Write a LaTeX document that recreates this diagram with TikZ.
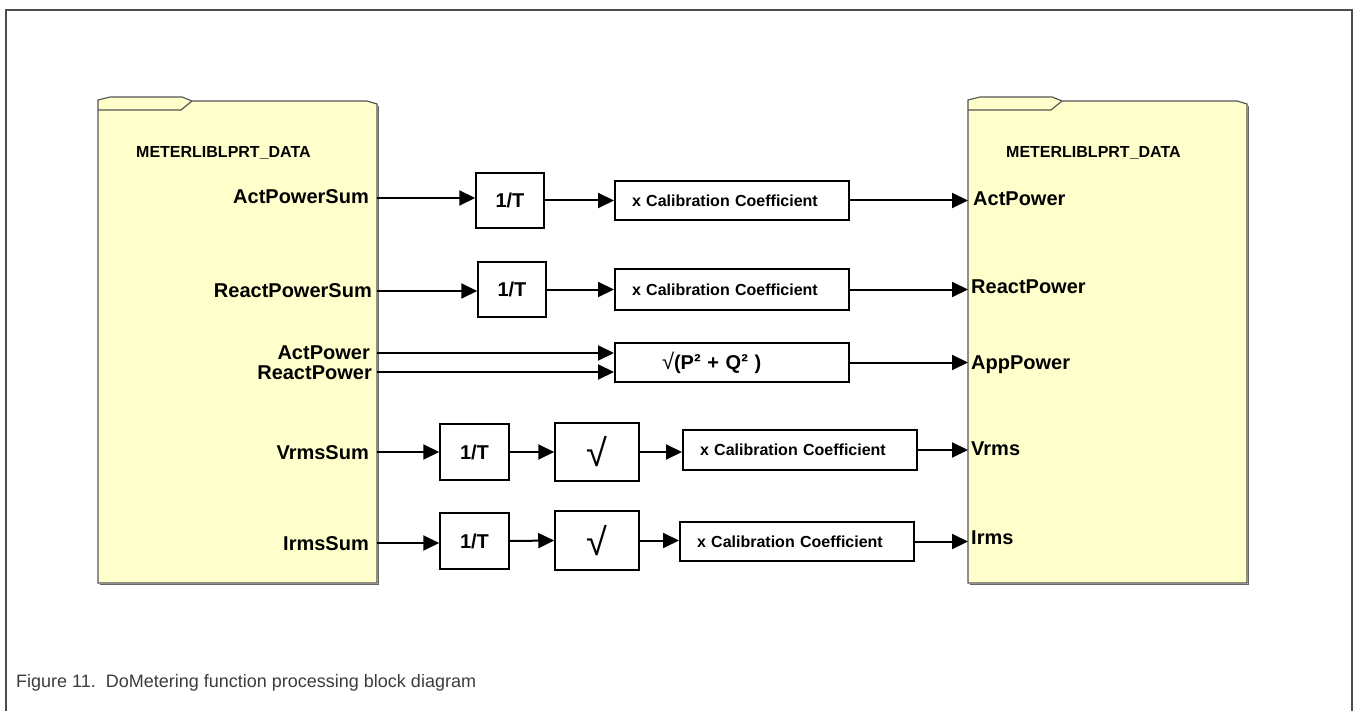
\documentclass[tikz,border=0pt]{standalone}
\usepackage{fontspec}
\setmainfont{Liberation Sans}
\usetikzlibrary{arrows.meta}
\definecolor{folderyellow}{HTML}{FFFFCC}
\definecolor{framegray}{HTML}{4D4D4D}
\definecolor{captiongray}{HTML}{3C3C3C}
\definecolor{folderline}{HTML}{555555}
\tikzset{
  lbl/.style={font=\bfseries\fontsize{20}{24}\selectfont, inner sep=0pt},
  hdr/.style={font=\bfseries\fontsize{16}{19}\selectfont, inner sep=0pt},
  tbox/.style={draw, line width=1.5pt, fill=white, minimum width=68pt, minimum height=55pt, inner sep=0pt, font=\bfseries\fontsize{20}{24}\selectfont},
  rbox/.style={draw, line width=1.5pt, fill=white, minimum width=84pt, minimum height=58pt, inner sep=0pt, font=\fontsize{38}{38}\selectfont},
  cbox/.style={draw, line width=2pt, fill=white, minimum height=39pt, text width=200pt, inner xsep=17pt, inner ysep=0pt, align=left, font=\bfseries\fontsize{16}{19}\selectfont},
  pqbox/.style={draw, line width=2pt, fill=white, minimum height=39pt, text width=140pt, inner xsep=47pt, inner ysep=0pt, align=left, font=\bfseries\fontsize{20}{24}\selectfont},
  flow/.style={line width=2pt, -{Triangle[length=16pt,width=15pt]}},
  folder/.style={draw=folderline, line width=1.2pt, fill=folderyellow},
  foldertab/.style={draw=folderline, line width=1.2pt},
  foldershadow/.style={draw=black!60, line width=1.5pt},
}
\begin{document}
\begin{tikzpicture}[x=1pt, y=-1pt]
\useasboundingbox (0,0) rectangle (1354,711);
% outer frame
\draw[framegray, line width=2.2pt] (6,711) -- (6,10) -- (1352,10) -- (1352,711);

% folders
\foreach \dx in {0,870}{
  \begin{scope}[xshift=\dx pt]
    \draw[foldershadow] (100,584.5) -- (378.5,584.5) -- (378.5,106);
    \draw[folder] (98,583) -- (98,100) -- (110,97) -- (182,97) -- (192,101) -- (367,101) -- (377,104) -- (377,583) -- cycle;
    \draw[foldertab] (98,110) -- (181,110) -- (192,101);
  \end{scope}
}
\coordinate (LF) at (377,0);
\coordinate (RF) at (968,0);

% headers
\node[hdr, anchor=base west] (hdrL) at (136,158) {METERLIBLPRT\_DATA};
\node[hdr, anchor=base west] (hdrR) at (1006,158) {METERLIBLPRT\_DATA};

% left labels
\node[lbl, anchor=base east] (inAPS) at (369,204) {ActPowerSum};
\node[lbl, anchor=base east] (inRPS) at (372,298) {ReactPowerSum};
\node[lbl, anchor=base east] (inAP) at (370,359) {ActPower};
\node[lbl, anchor=base east] (inRP) at (372,379) {ReactPower};
\node[lbl, anchor=base east] (inV) at (369,459) {VrmsSum};
\node[lbl, anchor=base east] (inI) at (369,550) {IrmsSum};

% right labels
\node[lbl, anchor=base west] (outAP) at (973,206) {ActPower};
\node[lbl, anchor=base west] (outRP) at (971,294) {ReactPower};
\node[lbl, anchor=base west] (outApp) at (971,369) {AppPower};
\node[lbl, anchor=base west] (outV) at (971,455) {Vrms};
\node[lbl, anchor=base west] (outI) at (971,544) {Irms};

% connector end points on folder edges
\coordinate (l1) at (377,198);
\coordinate (l2) at (377,291);
\coordinate (l3a) at (377,353);
\coordinate (l3b) at (377,372);
\coordinate (l4) at (377,452);
\coordinate (l5) at (377,543);

% boxes
\node[tbox] (t1) at (510,200.5) {1/T};
\node[cbox] (c1) at (732,200.5) {x Calibration Coefficient};
\node[tbox] (t2) at (512,289.5) {1/T};
\node[cbox, minimum height=40pt] (c2) at (732,289.5) {x Calibration Coefficient};
\node[pqbox] (s3) at (732,362.5) {{\mdseries\fontsize{22}{24}\selectfont √}(P\raisebox{1pt}{²} + Q\raisebox{1pt}{²} )};
\node[tbox, minimum width=69pt, minimum height=56pt] (t4) at (474.5,452) {1/T};
\node[rbox] (r4) at (597,452) {√};
\node[cbox, minimum height=40pt] (c4) at (800,450) {x Calibration Coefficient};
\node[tbox, minimum width=69pt, minimum height=56pt] (t5) at (474.5,541) {1/T};
\node[rbox, minimum height=59pt] (r5) at (597,540.5) {√};
\node[cbox] (c5) at (797,541.5) {x Calibration Coefficient};

% connectors
\draw[flow] (l1) -- (l1 -| t1.west);
\draw[flow] (t1.east) -- (c1.west);
\draw[flow] (c1.east) -- (c1.east -| RF);

\draw[flow] (l2) -- (l2 -| t2.west);
\draw[flow] (t2.east) -- (c2.west);
\draw[flow] (c2.east) -- (c2.east -| RF);

\draw[flow] (l3a) -- (l3a -| s3.west);
\draw[flow] (l3b) -- (l3b -| s3.west);
\draw[flow] (s3.east) -- (s3.east -| RF);

\draw[flow] (l4) -- (l4 -| t4.west);
\draw[flow] (t4.east) -- (r4.west);
\draw[flow] (r4.east) -- (r4.east -| c4.west);
\draw[flow] (c4.east) -- (c4.east -| RF);

\draw[flow] (l5) -- (l5 -| t5.west);
\draw[flow] (t5.east) -- (r5.west);
\draw[flow] (r5.east) -- (r5.east -| c5.west);
\draw[flow] (c5.east) -- (c5.east -| RF);

% caption
\node[anchor=base west, inner sep=0pt, text=captiongray, font=\fontsize{18}{22}\selectfont] (cap) at (16,687) {Figure 11.\ \ DoMetering function processing block diagram};
\end{tikzpicture}
\end{document}
